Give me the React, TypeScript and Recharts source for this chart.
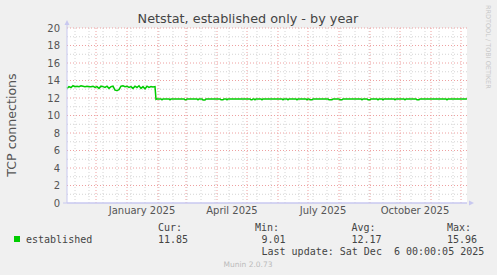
import { LineChart, Line, XAxis, YAxis, CartesianGrid } from 'recharts'

// days counted from 1 Nov 2024; the year view covers day 1 .. 401
const earlyValues = [
  13.1, 13.3, 13.2, 13.4, 13.3, 13.35, 13.3, 13.4, 13.35, 13.3, 13.35, 13.3, 13.3, 13.35, 13.2,
  13.3, 13.1, 13.35, 13.3, 13.2, 13.35, 13.1, 13.3, 13.35, 12.9, 12.85, 12.95, 13.35, 13.4, 13.3,
  13.35, 13.2, 13.3, 13.1, 13.35, 13.2, 13.4, 13.1, 13.3, 13.05, 13.35, 13.2, 13.3, 13.25, 13.3,
]

const lateSamples: [number, number][] = [
  [90, 11.85], [91, 11.9], [95, 11.9], [96, 11.8], [97, 11.9], [103, 11.9], [104, 11.8], [105, 11.9],
  [118, 11.9], [119, 11.8], [120, 11.8], [121, 11.9], [131, 11.9], [132, 11.8], [133, 11.9],
  [136, 11.9], [137, 11.78], [139, 11.78], [140, 11.9], [154, 11.9], [155, 11.8], [157, 11.8],
  [158, 11.9], [160, 11.9], [161, 11.8], [162, 11.9], [184, 11.9], [185, 11.8], [186, 11.8],
  [187, 11.9], [188, 11.9], [189, 11.8], [190, 11.9], [195, 11.9], [196, 11.8], [197, 11.9],
  [216, 11.9], [217, 11.8], [218, 11.9], [221, 11.9], [222, 11.8], [223, 11.9], [230, 11.9],
  [231, 11.8], [232, 11.9], [240, 11.9], [241, 11.8], [242, 11.9], [243, 11.9], [244, 11.8],
  [246, 11.8], [247, 11.9], [262, 11.9], [263, 11.8], [266, 11.8], [267, 11.9], [273, 11.9],
  [274, 11.8], [276, 11.8], [277, 11.9], [295, 11.9], [296, 11.8], [297, 11.9], [301, 11.9],
  [302, 11.8], [304, 11.8], [305, 11.9], [311, 11.9], [312, 11.8], [313, 11.9], [316, 11.9],
  [317, 11.8], [318, 11.9], [328, 11.9], [329, 11.8], [330, 11.9], [338, 11.9], [339, 11.8],
  [340, 11.9], [350, 11.9], [351, 11.8], [353, 11.8], [354, 11.9], [380, 11.9], [381, 11.8],
  [382, 11.9], [400, 11.9], [401, 11.88],
]

const monthStartDays = [30, 61, 92, 120, 151, 181, 212, 242, 273, 304, 334, 365, 395]
const fortnightDays = [
  9, 23, 37, 51, 65, 79, 93, 107, 121, 135, 149, 163, 177, 191, 205, 219, 233, 247, 261, 275,
  289, 303, 317, 331, 345, 359, 373, 387,
]
const labelDays = [76, 166, 257, 349]
const labelNames = ['January 2025', 'April 2025', 'July 2025', 'October 2025']
const yTicks = [0, 2, 4, 6, 8, 10, 12, 14, 16, 18, 20]
const minorY = [1, 3, 5, 7, 9, 11, 13, 15, 17, 19]

const stats = { cur: '11.85', min: '9.01', avg: '12.17', max: '15.96' }

const rows = [
  ...earlyValues.map((v, i) => ({ day: 1 + i * 2, value: v })),
  ...lateSamples.map(([d, v]) => ({ day: d, value: v })),
]

const sans = 'DejaVu Sans, sans-serif'
const mono = 'DejaVu Sans Mono, monospace'
const axisColor = '#c8c8f0'

export default function App() {
  return (
    <div style={{ position: 'fixed', left: 0, top: 0, width: 497, height: 275, background: '#f0f0f0' }}>
      <LineChart width={497} height={275} data={rows} margin={{ top: 28, right: 30, bottom: 42, left: 0 }}>
        <CartesianGrid
          fill="#ffffff"
          stroke="#d4d4d4"
          strokeDasharray="1 2"
          horizontalValues={minorY}
          verticalValues={fortnightDays}
        />
        <CartesianGrid
          stroke="#eea0a0"
          strokeDasharray="1 2"
          horizontalValues={yTicks.filter((t) => t > 0)}
          verticalValues={monthStartDays}
        />
        <XAxis
          dataKey="day"
          type="number"
          domain={[1, 401]}
          ticks={labelDays}
          interval={0}
          height={30}
          tickFormatter={(d: number) => labelNames[labelDays.indexOf(d)] ?? ''}
          tickLine={false}
          tickSize={2}
          tickMargin={2}
          axisLine={{ stroke: axisColor }}
          tick={{ fill: '#555', fontSize: 10, fontFamily: sans }}
        />
        <YAxis
          domain={[0, 20]}
          ticks={yTicks}
          interval={0}
          width={67}
          tickLine={false}
          tickSize={4}
          tickMargin={3}
          axisLine={{ stroke: axisColor }}
          tick={{ fill: '#555', fontSize: 10, fontFamily: sans }}
        />
        <Line
          dataKey="value"
          type="linear"
          stroke="#00cc00"
          strokeWidth={1.5}
          dot={false}
          isAnimationActive={false}
        />
      </LineChart>
      <svg
        width={497}
        height={275}
        style={{ position: 'absolute', left: 0, top: 0, pointerEvents: 'none' }}
      >
        {/* axis arrows */}
        <line x1={67} y1={28} x2={67} y2={23} stroke={axisColor} />
        <polygon points="64.5,25 69.5,25 67,20" fill={axisColor} />
        <line x1={63} y1={203} x2={467} y2={203} stroke={axisColor} />
        <polygon points="469,200.5 469,205.5 474,203" fill={axisColor} />

        <text x={248} y={23} textAnchor="middle" fontFamily={sans} fontSize={12.8} fill="#444">
          Netstat, established only - by year
        </text>
        <text
          transform="translate(15.5,125) rotate(-90)"
          textAnchor="middle"
          fontFamily={sans}
          fontSize={12.6}
          fill="#555"
        >
          TCP connections
        </text>
        <text
          transform="translate(486,5) rotate(90)"
          fontFamily={sans}
          fontSize={6.5}
          fill="#c8c8c8"
        >
          RRDTOOL / TOBI OETIKER
        </text>

        <g fontFamily={mono} fontSize={10} fill="#444">
          <text x={158} y={231}>Cur:</text>
          <text x={255} y={231}>Min:</text>
          <text x={351.5} y={231}>Avg:</text>
          <text x={447} y={231}>Max:</text>
          <rect x={14} y={236} width={6} height={6} fill="#00cc00" />
          <text x={26} y={243}>established</text>
          <text x={158} y={243}>{stats.cur}</text>
          <text x={261.5} y={243}>{stats.min}</text>
          <text x={351.5} y={243}>{stats.avg}</text>
          <text x={447} y={243}>{stats.max}</text>
          <text x={261.5} y={255} xmlSpace="preserve" style={{ whiteSpace: 'pre' }}>
            {'Last update: Sat Dec  6 00:00:05 2025'}
          </text>
        </g>
        <text x={248} y={267} textAnchor="middle" fontFamily={sans} fontSize={7.5} fill="#bbb">
          Munin 2.0.73
        </text>
      </svg>
    </div>
  )
}
